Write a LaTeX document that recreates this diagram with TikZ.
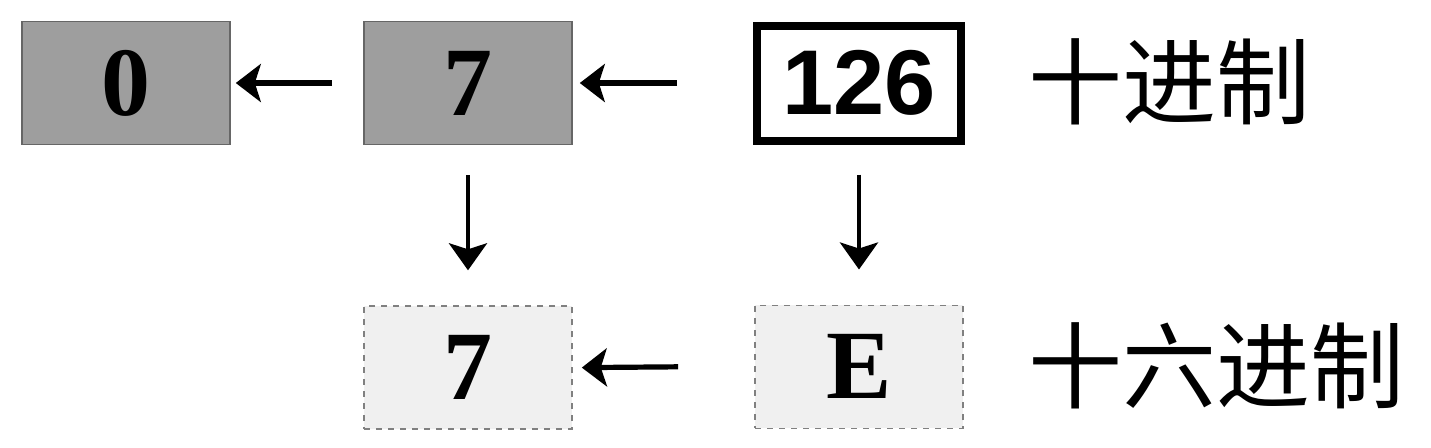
\documentclass[tikz,border=0pt]{standalone}
\usepackage{fontspec}
\setmainfont{Liberation Serif}
\newfontfamily\cjkfont{Noto Sans CJK SC}
\newfontfamily\digitfont{Liberation Sans}
\usetikzlibrary{positioning,arrows.meta}
\tikzset{
  every node/.style={inner sep=0pt},
  numbox/.style={minimum width=104pt, minimum height=61.5pt,
    font=\fontsize{49}{50}\selectfont\bfseries},
  greybox/.style={numbox, fill=black!38, draw=black!60, line width=0.8pt},
  paperbox/.style={numbox, fill=black!6, draw=black!50,
    dash pattern=on 3pt off 3pt, line width=0.8pt},
  inkbox/.style={numbox, minimum width=102pt, minimum height=57.5pt,
    draw=black, line width=4pt, font=\digitfont\fontsize{46}{48}\selectfont\bfseries},
  radix/.style={anchor=west, font=\cjkfont\fontsize{47}{48}\selectfont},
  conv/.style={-{Stealth[length=12.5pt, width=19pt, inset=3pt]}, line width=2.6pt},
  drop/.style={-{Stealth[length=13.5pt, width=19pt, inset=3pt]}, line width=2.2pt},
}

\begin{document}
\begin{tikzpicture}[x=0.5pt, y=-0.5pt]
  \useasboundingbox (0,0) rectangle (1431,447);
  % decimal row
  \node[greybox] (dec0)   at (126,83) {0};
  \node[greybox] (dec7)   at (468,83) {7};
  \node[inkbox]  (dec126) at (859,83) {126};
  \node[radix]   (declabel) at (1028,82) {十进制};
  % hex row
  \node[paperbox] (hex7) [below=80pt of dec7] {7};
  \node[paperbox] (hexE) [below=80pt of dec126] {E};
  \node[radix]    (hexlabel) at (1028,366) {十六进制};

  \draw[conv] ([xshift=-15.5pt]dec7.west) -- ([xshift=2.5pt]dec0.east);
  \draw[conv] ([xshift=-38pt]dec126.west) -- ([xshift=3.5pt]dec7.east);
  \draw[conv] ([xshift=-38pt]hexE.west) -- ([xshift=4.5pt]hex7.east);
  \draw[drop] ([yshift=-15pt]dec7.south) -- ([yshift=17.5pt]hex7.north);
  \draw[drop] ([yshift=-15pt]dec126.south) -- ([yshift=17.5pt]hexE.north);
\end{tikzpicture}
\end{document}
